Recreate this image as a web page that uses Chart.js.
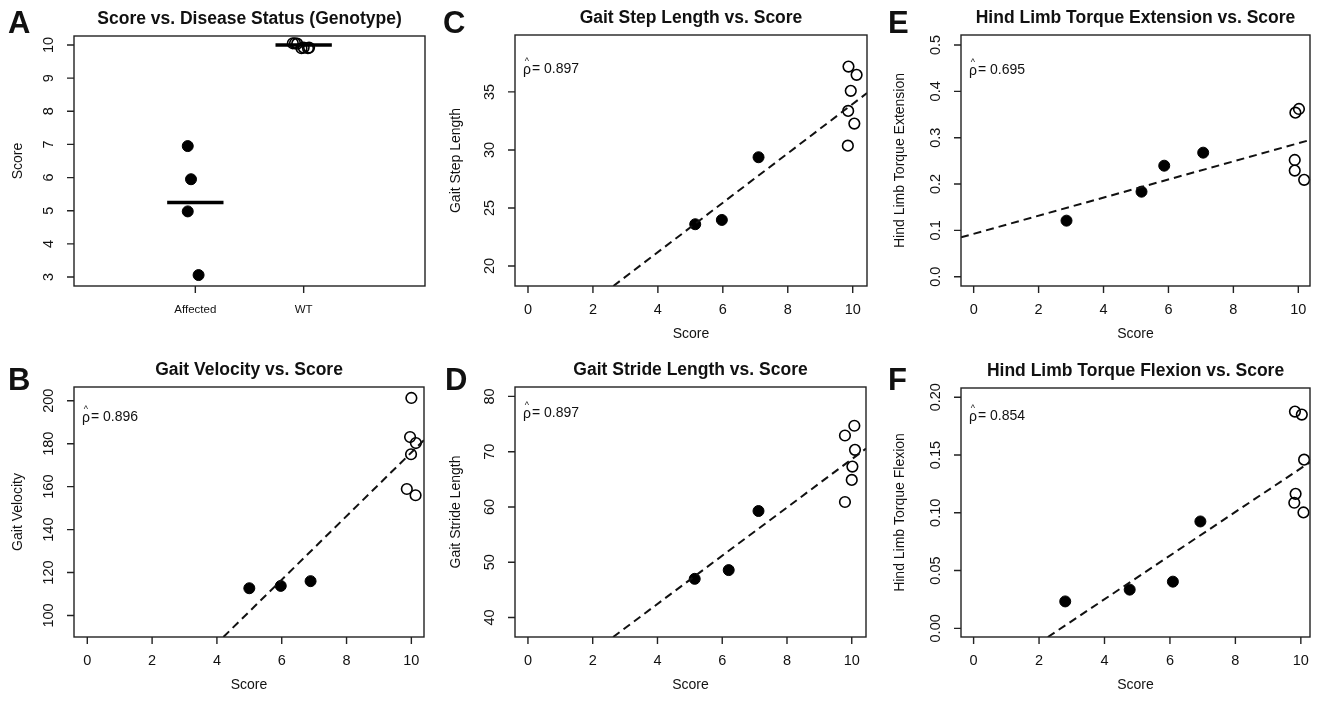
<!DOCTYPE html>
<html>
<head>
<meta charset="utf-8">
<title>Score vs. gait and hind limb measures</title>
<script src="https://cdn.jsdelivr.net/npm/chart.js@4.4.0/dist/chart.umd.min.js"></script>
<style>
  html, body { margin: 0; padding: 0; background: #fff; }
  #wrap { position: relative; width: 1317px; height: 704px; }
  #wrap canvas { position: absolute; left: 0; top: 0; }
</style>
</head>
<body>
<div id="wrap">
  <canvas id="cA" width="1317" height="704"></canvas>
  <canvas id="cB" width="1317" height="704"></canvas>
  <canvas id="cC" width="1317" height="704"></canvas>
  <canvas id="cD" width="1317" height="704"></canvas>
  <canvas id="cE" width="1317" height="704"></canvas>
  <canvas id="cF" width="1317" height="704"></canvas>
</div>
<script>
// ---- data ----

// A: score by genotype (x = jittered group position, 1 = Affected, 2 = WT)
const genotypes = ["Affected", "WT"];
const genotypePos = [1, 2];
const affectedJitter = [0.93, 0.96, 0.93, 1.03];
const affectedScore = [6.95, 5.95, 4.98, 3.06];
const wtJitter = [1.90, 1.92, 1.94, 1.98, 2.00, 2.04, 2.05];
const wtScore = [10.05, 10.05, 10.04, 9.90, 9.92, 9.90, 9.92];
const affectedMean = 5.25;
const wtMean = 10.0;
const scoreTicksA = [3, 4, 5, 6, 7, 8, 9, 10];

const scoreTicks = [0, 2, 4, 6, 8, 10];

// B: gait velocity
const velAffScore = [5.0, 5.97, 6.89];
const velAff = [112.7, 113.8, 116.0];
const velWtScore = [10.0, 9.96, 10.14, 9.99, 9.86, 10.13];
const velWt = [201.3, 183.1, 180.3, 175.1, 158.9, 156.0];
const velFitX = [4.2, 10.39];
const velFitY = [90, 181.7];
const velTicks = [100, 120, 140, 160, 180, 200];

// C: gait step length
const stepAffScore = [5.15, 5.97, 7.1];
const stepAff = [23.6, 23.97, 29.37];
const stepWtScore = [9.87, 10.12, 9.94, 9.86, 10.05, 9.85];
const stepWt = [37.18, 36.47, 35.09, 33.36, 32.27, 30.37];
const stepFitX = [2.63, 10.44];
const stepFitY = [18.28, 34.9];
const stepTicks = [20, 25, 30, 35];

// D: gait stride length
const strideAffScore = [5.15, 6.2, 7.12];
const strideAff = [47.0, 48.58, 59.27];
const strideWtScore = [9.79, 10.08, 10.1, 10.02, 10.0, 9.79];
const strideWt = [72.93, 74.69, 70.33, 67.3, 64.9, 60.9];
const strideFitX = [2.63, 10.44];
const strideFitY = [36.48, 70.56];
const strideTicks = [40, 50, 60, 70, 80];

// E: hind limb torque extension
const extAffScore = [2.86, 5.17, 5.87, 7.07];
const extAff = [0.121, 0.1835, 0.2396, 0.2677];
const extWtScore = [9.91, 10.02, 9.89, 9.89, 10.18];
const extWt = [0.354, 0.362, 0.252, 0.229, 0.209];
const extFitX = [-0.39, 10.36];
const extFitY = [0.085, 0.295];
const extTicks = [0, 0.1, 0.2, 0.3, 0.4, 0.5];
const extTickLabels = ["0.0", "0.1", "0.2", "0.3", "0.4", "0.5"];

// F: hind limb torque flexion
const flexAffScore = [2.8, 4.77, 6.09, 6.93];
const flexAff = [0.0233, 0.0335, 0.0404, 0.0925];
const flexWtScore = [9.82, 10.03, 10.1, 9.84, 9.8, 10.08];
const flexWt = [0.1876, 0.185, 0.146, 0.1164, 0.1087, 0.1003];
const flexFitX = [2.27, 10.28];
const flexFitY = [-0.0075, 0.1438];
const flexTicks = [0, 0.05, 0.1, 0.15, 0.2];
const flexTickLabels = ["0.00", "0.05", "0.10", "0.15", "0.20"];

// ---- drawing ----

const W = 1317, H = 704;
const FONT = '"Liberation Sans", Arial, Helvetica, sans-serif';

function pts(xs, ys) {
    return xs.map((x, i) => ({ x: x, y: ys[i] }));
}

function filled(xs, ys) {
    return {
        data: pts(xs, ys),
        pointRadius: 5.5,
        pointBackgroundColor: "#000",
        pointBorderColor: "#000",
        pointBorderWidth: 1,
        showLine: false,
        clip: false
    };
}

function hollow(xs, ys) {
    return {
        data: pts(xs, ys),
        pointRadius: 5.3,
        pointBackgroundColor: "rgba(0,0,0,0)",
        pointBorderColor: "#000",
        pointBorderWidth: 1.6,
        showLine: false,
        clip: false
    };
}

function dashed(xs, ys) {
    return {
        data: pts(xs, ys),
        showLine: true,
        borderColor: "#111",
        borderWidth: 2,
        borderDash: [8, 5],
        pointRadius: 0,
        fill: false
    };
}

function meanBar(center, value) {
    return {
        data: [{ x: center - 0.26, y: value }, { x: center + 0.26, y: value }],
        showLine: true,
        borderColor: "#000",
        borderWidth: 3.5,
        pointRadius: 0,
        fill: false,
        clip: false
    };
}

// R style frame, ticks and labels, placed with the chart's own scales
const rAxes = {
    id: "rAxes",
    afterDraw(chart, args, o) {
        const ctx = chart.ctx;
        const a = chart.chartArea;
        const x = chart.scales.x, y = chart.scales.y;
        const cx = (a.left + a.right) / 2, cy = (a.top + a.bottom) / 2;

        ctx.save();
        ctx.strokeStyle = "#222";
        ctx.lineWidth = 1.4;
        ctx.strokeRect(a.left, a.top, a.right - a.left, a.bottom - a.top);

        ctx.beginPath();
        o.xTicks.forEach(v => {
            const px = x.getPixelForValue(v);
            ctx.moveTo(px, a.bottom);
            ctx.lineTo(px, a.bottom + 7);
        });
        o.yTicks.forEach(v => {
            const py = y.getPixelForValue(v);
            ctx.moveTo(a.left - 7, py);
            ctx.lineTo(a.left, py);
        });
        ctx.stroke();

        ctx.fillStyle = "#111";
        ctx.textAlign = "center";
        ctx.textBaseline = "middle";

        ctx.font = (o.xTickFont || "14.5px") + " " + FONT;
        o.xTicks.forEach((v, i) => {
            ctx.fillText(o.xTickLabels[i], x.getPixelForValue(v), a.bottom + 24);
        });

        ctx.font = "14.5px " + FONT;
        o.yTicks.forEach((v, i) => {
            ctx.save();
            ctx.translate(a.left - 25, y.getPixelForValue(v));
            ctx.rotate(-Math.PI / 2);
            ctx.fillText(o.yTickLabels[i], 0, 0);
            ctx.restore();
        });

        ctx.font = "14px " + FONT;
        if (o.xTitle) ctx.fillText(o.xTitle, cx, a.bottom + 48);

        ctx.save();
        ctx.translate(a.left - o.yTitleGap, cy);
        ctx.rotate(-Math.PI / 2);
        ctx.fillText(o.yTitle, 0, 0);
        ctx.restore();

        ctx.font = "bold 17.5px " + FONT;
        ctx.fillText(o.title, cx, a.top - 16.5);

        if (o.rho) {
            ctx.font = "14px " + FONT;
            ctx.textAlign = "left";
            const tx = a.left + 8, ty = a.top + o.rhoDy;
            ctx.fillText("\u03C1", tx, ty + 1);
            const rw = ctx.measureText("\u03C1").width;
            ctx.font = "9px " + FONT;
            ctx.textAlign = "center";
            ctx.fillText("^", tx + rw / 2, ty - 7);
            ctx.font = "14px " + FONT;
            ctx.textAlign = "left";
            ctx.fillText("= " + o.rho, tx + rw + 1, ty);
        }

        ctx.font = "bold 31px " + FONT;
        ctx.textAlign = "left";
        ctx.textBaseline = "alphabetic";
        ctx.fillText(o.letter, o.letterX, o.letterY);
        ctx.restore();
    }
};

function makePanel(id, box, xr, yr, datasets, axes) {
    new Chart(document.getElementById(id), {
        type: "scatter",
        data: { datasets: datasets },
        plugins: [rAxes],
        options: {
            responsive: false,
            animation: false,
            devicePixelRatio: 1,
            events: [],
            layout: {
                padding: { left: box[0], top: box[1], right: W - box[2], bottom: H - box[3] }
            },
            scales: {
                x: { type: "linear", display: false, min: xr[0], max: xr[1] },
                y: { type: "linear", display: false, min: yr[0], max: yr[1] }
            },
            plugins: {
                legend: { display: false },
                tooltip: { enabled: false },
                rAxes: axes
            }
        }
    });
}

const scoreLabels = scoreTicks.map(String);

// A
makePanel("cA", [74, 36, 425, 286], [-0.12, 3.12], [2.73, 10.27], [
    meanBar(genotypePos[0], affectedMean),
    meanBar(genotypePos[1], wtMean),
    filled(affectedJitter, affectedScore),
    hollow(wtJitter, wtScore)
], {
    title: "Score vs. Disease Status (Genotype)",
    xTicks: genotypePos, xTickLabels: genotypes, xTickFont: "11.5px",
    yTicks: scoreTicksA, yTickLabels: scoreTicksA.map(String),
    yTitle: "Score", yTitleGap: 56,
    letter: "A", letterX: 8, letterY: 33
});

// B
makePanel("cB", [74, 387, 424, 637], [-0.41, 10.39], [90, 206.4], [
    dashed(velFitX, velFitY),
    filled(velAffScore, velAff),
    hollow(velWtScore, velWt)
], {
    title: "Gait Velocity vs. Score",
    xTicks: scoreTicks, xTickLabels: scoreLabels, xTitle: "Score",
    yTicks: velTicks, yTickLabels: velTicks.map(String),
    yTitle: "Gait Velocity", yTitleGap: 56,
    rho: "0.896", rhoDy: 30,
    letter: "B", letterX: 8, letterY: 390
});

// C
makePanel("cC", [515, 35, 867, 286], [-0.4, 10.44], [18.28, 39.9], [
    dashed(stepFitX, stepFitY),
    filled(stepAffScore, stepAff),
    hollow(stepWtScore, stepWt)
], {
    title: "Gait Step Length vs. Score",
    xTicks: scoreTicks, xTickLabels: scoreLabels, xTitle: "Score",
    yTicks: stepTicks, yTickLabels: stepTicks.map(String),
    yTitle: "Gait Step Length", yTitleGap: 59,
    rho: "0.897", rhoDy: 34,
    letter: "C", letterX: 443, letterY: 33
});

// D
makePanel("cD", [515, 387, 866, 637], [-0.4, 10.44], [36.48, 81.7], [
    dashed(strideFitX, strideFitY),
    filled(strideAffScore, strideAff),
    hollow(strideWtScore, strideWt)
], {
    title: "Gait Stride Length vs. Score",
    xTicks: scoreTicks, xTickLabels: scoreLabels, xTitle: "Score",
    yTicks: strideTicks, yTickLabels: strideTicks.map(String),
    yTitle: "Gait Stride Length", yTitleGap: 59,
    rho: "0.897", rhoDy: 26,
    letter: "D", letterX: 445, letterY: 390
});

// E
makePanel("cE", [961, 35, 1310, 286], [-0.39, 10.36], [-0.02, 0.5216], [
    dashed(extFitX, extFitY),
    filled(extAffScore, extAff),
    hollow(extWtScore, extWt)
], {
    title: "Hind Limb Torque Extension vs. Score",
    xTicks: scoreTicks, xTickLabels: scoreLabels, xTitle: "Score",
    yTicks: extTicks, yTickLabels: extTickLabels,
    yTitle: "Hind Limb Torque Extension", yTitleGap: 61,
    rho: "0.695", rhoDy: 35,
    letter: "E", letterX: 888, letterY: 33
});

// F
makePanel("cF", [961, 388, 1310, 637], [-0.385, 10.28], [-0.0075, 0.208], [
    dashed(flexFitX, flexFitY),
    filled(flexAffScore, flexAff),
    hollow(flexWtScore, flexWt)
], {
    title: "Hind Limb Torque Flexion vs. Score",
    xTicks: scoreTicks, xTickLabels: scoreLabels, xTitle: "Score",
    yTicks: flexTicks, yTickLabels: flexTickLabels,
    yTitle: "Hind Limb Torque Flexion", yTitleGap: 61,
    rho: "0.854", rhoDy: 28,
    letter: "F", letterX: 888, letterY: 390
});
</script>
</body>
</html>
